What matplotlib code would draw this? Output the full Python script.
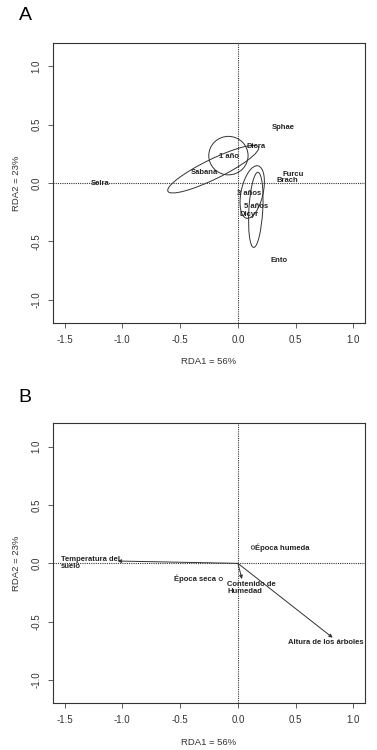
import matplotlib
matplotlib.use("Agg")
import matplotlib.pyplot as plt
from matplotlib.patches import Ellipse
import numpy as np

plt.rcParams['font.family'] = ['Liberation Sans', 'DejaVu Sans']

# Panel A: species / group scores
sp_names = ["Sphae", "Dicra", "Furcu", "Brach", "Selra", "Dicyr", "Ento"]
sp_x = [0.39, 0.16, 0.48, 0.43, -1.19, 0.10, 0.356]
sp_y = [0.475, 0.31, 0.075, 0.02, -0.005, -0.27, -0.66]

grp_names = ["1 año", "Sabana", "3 años", "5 años"]
grp_x = [-0.076, -0.286, 0.094, 0.155]
grp_y = [0.23, 0.087, -0.09, -0.2]

# ellipses: center x, center y, width, height, angle
ell_cx = [-0.082, -0.214, 0.124, 0.155]
ell_cy = [0.235, 0.119, -0.077, -0.23]
ell_w = [0.34, 0.87, 0.46, 0.645]
ell_h = [0.33, 0.17, 0.19, 0.12]
ell_ang = [0, 25.8, 77.4, 86.7]

# Panel B: environmental vectors and factor centroids
env_names = ["Temperatura del\nsuelo", "Contenido de\nHumedad", "Altura de los árboles"]
env_x = [-1.04, 0.035, 0.82]
env_y = [0.02, -0.134, -0.637]

fac_names = ["Época humeda", "Época seca"]
fac_x = [0.13, -0.148]
fac_y = [0.136, -0.134]

xticks = [-1.5, -1.0, -0.5, 0.0, 0.5, 1.0]
yticks = [-1.0, -0.5, 0.0, 0.5, 1.0]
xlabel = "RDA1 = 56%"
ylabel = "RDA2 = 23%"

fig = plt.figure(figsize=(3.77, 7.5), dpi=100)
axA = fig.add_axes([0.1406, 0.5693, 0.8276, 0.3733])
axB = fig.add_axes([0.1406, 0.0622, 0.8276, 0.3733])

def style(ax):
    ax.set_xlim(-1.6, 1.1)
    ax.set_ylim(-1.2, 1.2)
    ax.set_xticks(xticks)
    ax.set_yticks(yticks)
    ax.set_xticklabels(["%.1f" % v for v in xticks])
    ax.set_yticklabels(["%.1f" % v for v in yticks], rotation=90, va='center')
    ax.tick_params(direction='out', length=3.5, width=0.6, labelsize=7,
                   colors='#444444', labelcolor='#333333', pad=5)
    for s in ax.spines.values():
        s.set_linewidth(0.8)
        s.set_color('#333333')
    ax.axhline(0, color='#333333', lw=0.8, ls=(0, (1, 1)), zorder=1)
    ax.axvline(0, color='#333333', lw=0.8, ls=(0, (1, 1)), zorder=1)
    ax.set_xlabel(xlabel, fontsize=6.8, color='#333333', labelpad=9)
    ax.set_ylabel(ylabel, fontsize=6.8, color='#333333', labelpad=7)

style(axA)
style(axB)

tk = dict(fontsize=5.5, fontweight='bold', color='#222222')
for n, x, y in zip(sp_names, sp_x, sp_y):
    axA.text(x, y, n, ha='center', va='center', **tk)
for n, x, y in zip(grp_names, grp_x, grp_y):
    axA.text(x, y, n, ha='center', va='center', **tk)
for cx, cy, w, h, a in zip(ell_cx, ell_cy, ell_w, ell_h, ell_ang):
    axA.add_patch(Ellipse((cx, cy), w, h, angle=a, fill=False,
                          ec='#333333', lw=0.7))

for (n, x, y) in zip(env_names, env_x, env_y):
    axB.annotate("", xy=(x, y), xytext=(0, 0),
                 arrowprops=dict(arrowstyle='-|>', color='#333333', lw=0.7,
                                 mutation_scale=5, shrinkA=0, shrinkB=0))
axB.text(-1.535, 0.0, env_names[0], ha='left', va='center', linespacing=1.0, **tk)
axB.text(-0.09, -0.21, env_names[1], ha='left', va='center', linespacing=1.0, **tk)
axB.text(0.76, -0.68, env_names[2], ha='center', va='center', **tk)

axB.scatter(fac_x, fac_y, s=6, facecolors='none', edgecolors='#333333', lw=0.6, zorder=3)
axB.text(fac_x[0] + 0.02, fac_y[0], fac_names[0], ha='left', va='center', **tk)
axB.text(fac_x[1] - 0.04, fac_y[1], fac_names[1], ha='right', va='center', **tk)

fig.text(25 / 377, 1 - 15 / 750, "A", fontsize=14, ha='center', va='center')
fig.text(25 / 377, 1 - 398 / 750, "B", fontsize=14, ha='center', va='center')

fig.savefig("out.png", dpi=100)
